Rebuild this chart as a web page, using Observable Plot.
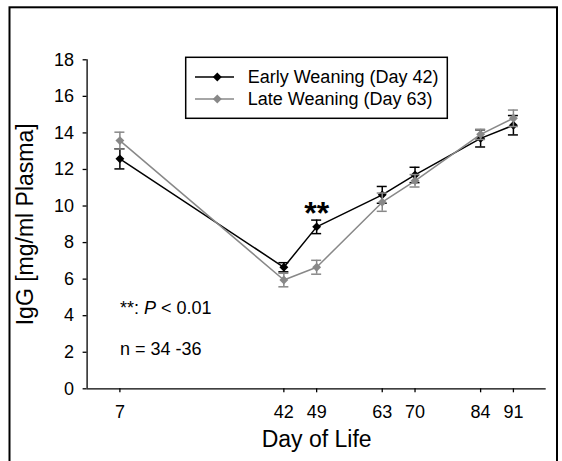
<!DOCTYPE html>
<html><head><meta charset="utf-8">
<script src="https://cdn.jsdelivr.net/npm/d3@7"></script>
<script src="https://cdn.jsdelivr.net/npm/@observablehq/plot@0.6"></script>
<style>body{margin:0;background:#fff} #chart{width:562px;height:461px;overflow:hidden}</style>
</head><body><div id="chart"></div>
<script>
const days = [7, 42, 49, 63, 70, 84, 91];
const yTicks = [0, 2, 4, 6, 8, 10, 12, 14, 16, 18];
const seriesNames = ["Early Weaning (Day 42)", "Late Weaning (Day 63)"];
const earlyMean = [12.58, 6.65, 8.86, 10.61, 11.7, 13.7, 14.42];
const earlyErr  = [0.55, 0.25, 0.37, 0.46, 0.42, 0.47, 0.53];
const lateMean  = [13.58, 5.95, 6.65, 10.21, 11.38, 13.92, 14.8];
const lateErr   = [0.46, 0.37, 0.38, 0.5, 0.34, 0.28, 0.45];
const xLabel = "Day of Life";
const yLabel = "IgG [mg/ml Plasma]";
const sigMark = {day: 49, y: 9.6, text: "**"};
const notes = [{day: 7, y: 4.39, text: "**: P < 0.01"}, {day: 7, y: 2.15, text: "n = 34 -36"}];

const colors = ["#000000", "#888888"];
const toRows = (m, e) => days.map((d, i) => ({day: d, mean: m[i], err: e[i]}));
const early = toRows(earlyMean, earlyErr);
const late = toRows(lateMean, lateErr);

function seriesMarks(data, color) {
  return [
    Plot.ruleX(data, {x: "day", y1: d => d.mean - d.err, y2: d => d.mean + d.err, stroke: color, strokeWidth: 1.5}),
    Plot.ruleY(data, {x1: "day", x2: "day", y: d => d.mean + d.err, insetLeft: -5, insetRight: -5, stroke: color, strokeWidth: 1.5}),
    Plot.ruleY(data, {x1: "day", x2: "day", y: d => d.mean - d.err, insetLeft: -5, insetRight: -5, stroke: color, strokeWidth: 1.5}),
    Plot.line(data, {x: "day", y: "mean", stroke: color, strokeWidth: 1.5}),
    Plot.dot(data, {x: "day", y: "mean", symbol: "diamond2", r: 4, fill: color, stroke: "none"})
  ];
}

const font = "'Liberation Sans', Arial, sans-serif";
const plot = Plot.plot({
  width: 562, height: 461,
  marginLeft: 86.6, marginRight: 16.3, marginTop: 59.3, marginBottom: 72.7,
  x: {domain: [0, 98]},
  y: {domain: [0, 18]},
  style: {fontFamily: font, fontSize: "18px", color: "#000", background: "#fff", overflow: "visible"},
  marks: [
    Plot.ruleY([0], {stroke: "#000", strokeWidth: 1.3}),
    Plot.ruleX([0], {y1: 0, y2: 18, stroke: "#000", strokeWidth: 1.3}),
    Plot.axisY({ticks: yTicks, tickSize: 4, tickPadding: 9, label: null, strokeWidth: 1.3, fontSize: 18}),
    Plot.axisX({ticks: days, tickSize: 4, tickPadding: 12, label: null, strokeWidth: 1.3, fontSize: 18}),
    ...seriesMarks(early, colors[0]),
    ...seriesMarks(late, colors[1]),
    Plot.text([sigMark], {x: "day", y: "y", text: "text", fontSize: 32, fontWeight: "bold"}),
    Plot.text(notes, {x: "day", y: "y", text: "text", textAnchor: "start", fontSize: 18}),
    Plot.text([xLabel], {frameAnchor: "bottom", dy: 58, fontSize: 23}),
    Plot.text([yLabel], {frameAnchor: "left", textAnchor: "middle", rotate: -90, dx: -61, fontSize: 23})
  ]
});

const svg = d3.select(plot);
svg.selectAll("text").filter(function() { return this.textContent === notes[0].text; }).each(function() {
  const t = d3.select(this);
  t.text(null);
  t.append("tspan").text("**: ");
  t.append("tspan").attr("font-style", "italic").text("P");
  t.append("tspan").text(" < 0.01");
});

// legend
const lg = svg.append("g").attr("font-family", font).attr("font-size", 18).attr("text-anchor", "start");
lg.append("rect").attr("x", 185.7).attr("y", 57.3).attr("width", 261.6).attr("height", 61)
  .attr("fill", "#fff").attr("stroke", "#000").attr("stroke-width", 1.5);
const rowY = [77, 99];
seriesNames.forEach((name, i) => {
  lg.append("line").attr("x1", 195).attr("x2", 234).attr("y1", rowY[i]).attr("y2", rowY[i])
    .attr("stroke", colors[i]).attr("stroke-width", 1.5);
  lg.append("path").attr("transform", `translate(217.3,${rowY[i]})`)
    .attr("d", d3.symbol(d3.symbolDiamond2, Math.PI * 16)()).attr("fill", colors[i]);
  lg.append("text").attr("x", 247.7).attr("y", rowY[i]).attr("dy", "0.35em")
    .attr("text-anchor", "start").attr("fill", "#000").text(name);
});

// outer frame
svg.append("rect").attr("x", 9.5).attr("y", 7.3).attr("width", 547.5).attr("height", 470)
  .attr("fill", "none").attr("stroke", "#000").attr("stroke-width", 2);

document.getElementById("chart").appendChild(plot);
</script>
</body></html>
